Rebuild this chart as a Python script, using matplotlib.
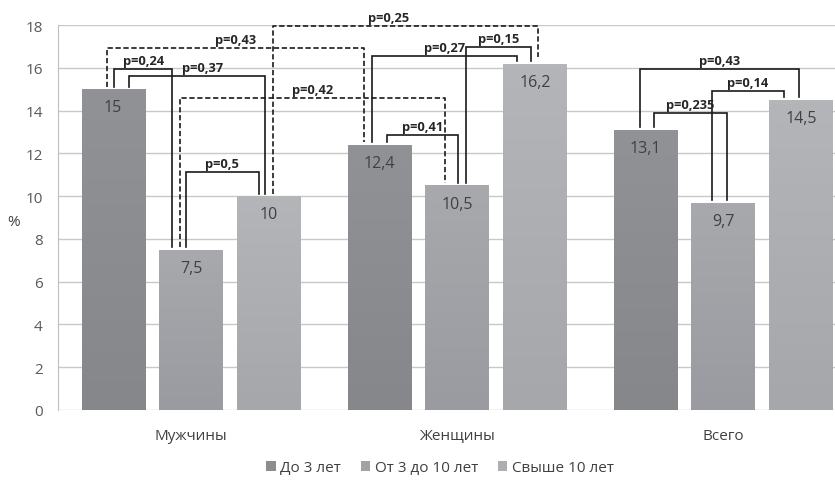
import matplotlib.pyplot as plt
import numpy as np
from matplotlib.colors import LinearSegmentedColormap

plt.rcParams['font.family'] = ['Open Sans', 'DejaVu Sans']
plt.rcParams['lines.scale_dashes'] = False

groups = ["Мужчины", "Женщины", "Всего"]
series = ["До 3 лет", "От 3 до 10 лет", "Свыше 10 лет"]
values = [
    [15, 12.4, 13.1],   # До 3 лет
    [7.5, 10.5, 9.7],   # От 3 до 10 лет
    [10, 16.2, 14.5],   # Свыше 10 лет
]
value_labels = [
    ["15", "12,4", "13,1"],
    ["7,5", "10,5", "9,7"],
    ["10", "16,2", "14,5"],
]

# p-value brackets: label, (group, series, dx) start, (group, series, dx) end, height, dashed
brackets = [
    ("p=0,43", (0, 0, -0.023), (1, 0, -0.056), 16.92, True),
    ("p=0,24", (0, 0, 0.004), (0, 1, -0.071), 15.94, False),
    ("p=0,37", (0, 0, 0.060), (0, 2, -0.015), 15.61, False),
    ("p=0,42", (0, 1, -0.041), (1, 1, -0.045), 14.59, True),
    ("p=0,5", (0, 1, -0.019), (0, 2, -0.038), 11.13, False),
    ("p=0,25", (0, 2, 0.015), (1, 2, 0.011), 17.95, True),
    ("p=0,27", (1, 0, -0.026), (1, 2, -0.068), 16.55, False),
    ("p=0,15", (1, 1, 0.034), (1, 2, -0.015), 16.97, False),
    ("p=0,41", (1, 0, 0.030), (1, 1, 0.004), 12.86, False),
    ("p=0,43", (2, 0, -0.019), (2, 2, -0.008), 15.94, False),
    ("p=0,235", (2, 0, 0.034), (2, 1, 0.015), 13.88, False),
    ("p=0,14", (2, 1, -0.041), (2, 2, -0.064), 14.91, False),
]
label_shift = {5: -0.064, 2: 0.02}

top_cols = ["#919296", "#a8a9ad", "#b4b5b9"]
bot_cols = ["#86878b", "#9a9ba0", "#a6a7ab"]
mid_cols = ["#8c8d91", "#a1a2a6", "#adaeb2"]

width = 0.237
step = 0.293

fig = plt.figure(figsize=(8.35, 4.81), dpi=100)
ax = fig.add_axes([58 / 835, 70 / 481, 798 / 835, 385 / 481])

x = np.arange(len(groups))
for s in range(3):
    bars = ax.bar(x + (s - 1) * step, values[s], width, color=mid_cols[s],
                  label=series[s], zorder=2)
    cmap = LinearSegmentedColormap.from_list("g%d" % s, [bot_cols[s], top_cols[s]])
    grad = np.linspace(0, 1, 64).reshape(-1, 1)
    for b in bars:
        x0 = b.get_x()
        im = ax.imshow(grad, extent=[x0, x0 + b.get_width(), 0, b.get_height()],
                       origin='lower', cmap=cmap, aspect='auto', zorder=2.1)
        im.set_clip_path(b)
    for g in range(3):
        ax.text(x[g] + (s - 1) * step, values[s][g] - 0.85, value_labels[s][g],
                ha='center', va='center', fontsize=11.5, color='#404040', zorder=3)


def bar_x(g, s, dx):
    return g + (s - 1) * step + dx


for i, (lab, a, b, h, dashed) in enumerate(brackets):
    xa = bar_x(*a)
    xb = bar_x(*b)
    ya = values[a[1]][a[0]] + 0.12
    yb = values[b[1]][b[0]] + 0.12
    if i == 5:
        yb = 16.5
    if i in (6, 7):
        yb = 16.3
    ls = (0, (3.8, 1.9)) if dashed else '-'
    ax.plot([xa, xa, xb, xb], [ya, h, h, yb], color='#1a1a1a', lw=1.2,
            linestyle=ls, zorder=4, clip_on=False, solid_joinstyle='miter')
    ax.text((xa + xb) / 2 + label_shift.get(i, 0), h + 0.1, lab, ha='center',
            va='bottom', fontsize=9.3, fontweight='bold', color='#262626',
            zorder=5, clip_on=False)

ax.set_xlim(-0.5, 2.5)
ax.set_ylim(0, 18)
ax.set_yticks(np.arange(0, 19, 2))
ax.set_xticks(x)
ax.set_xticklabels(groups)
ax.grid(axis='y', color='#c8c8c8', lw=1, zorder=0)
ax.set_axisbelow(True)
for sp in ['top', 'right', 'bottom']:
    ax.spines[sp].set_visible(False)
ax.spines['left'].set_color('#bfbfbf')
ax.tick_params(axis='y', length=0, pad=11, labelsize=11, labelcolor='#595959')
ax.tick_params(axis='x', length=0, pad=13, labelsize=11, labelcolor='#404040')
fig.text(14 / 835, 1 - 222 / 481, "%", ha='center', va='center', fontsize=11,
         color='#404040')

fig.legend(loc='center', bbox_to_anchor=(440 / 835, 12 / 481), ncol=3,
           frameon=False, fontsize=11, handlelength=0.6, handleheight=0.6,
           handletextpad=0.3, columnspacing=1.3, labelcolor='#404040')

fig.savefig("out.png", dpi=100)
